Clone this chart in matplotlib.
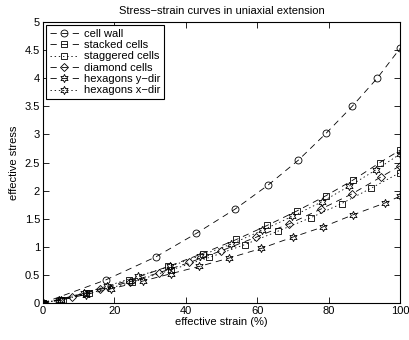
import matplotlib
matplotlib.use("Agg")
import matplotlib.pyplot as plt

plt.rcParams['font.family'] = ['Liberation Sans', 'DejaVu Sans']
plt.rcParams['lines.scale_dashes'] = False

# ---- data ----
cell_wall_x = [0, 17.6, 31.6, 43.0, 53.8, 63.1, 71.5, 79.3, 86.6, 93.6, 100]
cell_wall_y = [0, 0.41, 0.82, 1.24, 1.67, 2.10, 2.54, 3.02, 3.50, 4.00, 4.53]

stacked_x = [0, 5, 12, 24, 35.1, 44.7, 54.2, 62.8, 71.2, 79.3, 86.9, 94.4, 100]
stacked_y = [0, 0.06, 0.18, 0.40, 0.65, 0.88, 1.13, 1.38, 1.64, 1.91, 2.19, 2.50, 2.72]

staggered_x = [0, 5.5, 13, 25, 36.0, 46.6, 56.6, 65.9, 75.1, 83.7, 91.8, 100]
staggered_y = [0, 0.06, 0.17, 0.37, 0.59, 0.81, 1.04, 1.28, 1.52, 1.77, 2.04, 2.32]

diamond_x = [0, 8, 16, 24.5, 32.6, 41.0, 50.0, 59.7, 69.0, 77.8, 86.5, 94.6, 100]
diamond_y = [0, 0.11, 0.24, 0.38, 0.54, 0.72, 0.93, 1.17, 1.41, 1.67, 1.94, 2.24, 2.44]

hex_y_x = [0, 5, 12, 19, 28, 35.8, 43.8, 52.2, 61.1, 69.9, 78.3, 86.9, 95.8, 100]
hex_y_y = [0, 0.05, 0.15, 0.25, 0.39, 0.52, 0.65, 0.80, 0.97, 1.17, 1.35, 1.57, 1.78, 1.90]

hex_x_x = [0, 4.5, 11.5, 18, 26.7, 35.6, 44.0, 52.8, 61.3, 69.8, 78.1, 85.8, 93.3, 100]
hex_x_y = [0, 0.06, 0.18, 0.30, 0.48, 0.65, 0.84, 1.05, 1.29, 1.54, 1.80, 2.08, 2.37, 2.65]

labels = ['cell wall', 'stacked cells', 'staggered cells', 'diamond cells',
          'hexagons y\u2212dir', 'hexagons x\u2212dir']
x_ticks = [0, 20, 40, 60, 80, 100]
y_ticks = [0, 0.5, 1, 1.5, 2, 2.5, 3, 3.5, 4, 4.5, 5]
y_tick_labels = ['0', '0.5', '1', '1.5', '2', '2.5', '3', '3.5', '4', '4.5', '5']

# ---- plot ----
fig = plt.figure(figsize=(4.09, 3.40), dpi=100)
ax = fig.add_axes([0.105, 0.109, 0.873, 0.826])

dash = (0, (4.5, 3.5))
dot = (0, (1, 2))
hexa = (6, 1, 0)
common = dict(color='k', lw=0.6, mfc='none', mec='k', mew=0.6)

ax.plot(cell_wall_x, cell_wall_y, ls=dash, marker='o', ms=5, label=labels[0], **common)
ax.plot(stacked_x, stacked_y, ls=dash, marker='s', ms=4.5, label=labels[1], **common)
ax.plot(staggered_x, staggered_y, ls=dot, marker='s', ms=4.5, label=labels[2], **common)
ax.plot(diamond_x, diamond_y, ls=dash, marker='D', ms=4.2, label=labels[3], **common)
ax.plot(hex_y_x, hex_y_y, ls=dash, marker=hexa, ms=6, label=labels[4], **common)
ax.plot(hex_x_x, hex_x_y, ls=dot, marker=hexa, ms=6, label=labels[5], **common)

ax.set_xlim(0, 100)
ax.set_ylim(0, 5)
ax.set_xticks(x_ticks)
ax.set_yticks(y_ticks)
ax.set_yticklabels(y_tick_labels)
ax.tick_params(direction='in', top=True, right=True, labelsize=8,
               length=4, width=0.6, pad=2)
for s in ax.spines.values():
    s.set_linewidth(0.8)

ax.set_title('Stress\u2212strain curves in uniaxial extension', fontsize=8, pad=6)
ax.set_xlabel('effective strain (%)', fontsize=8, labelpad=1)
ax.set_ylabel('effective stress', fontsize=8, labelpad=4)

leg = ax.legend(loc='upper left', fontsize=8, numpoints=1, handlelength=2.6,
                fancybox=False, edgecolor='k', framealpha=1, borderpad=0.3,
                labelspacing=0.12, handletextpad=0.5, borderaxespad=0.3)
leg.get_frame().set_linewidth(0.8)

fig.savefig('out.png', dpi=100)
